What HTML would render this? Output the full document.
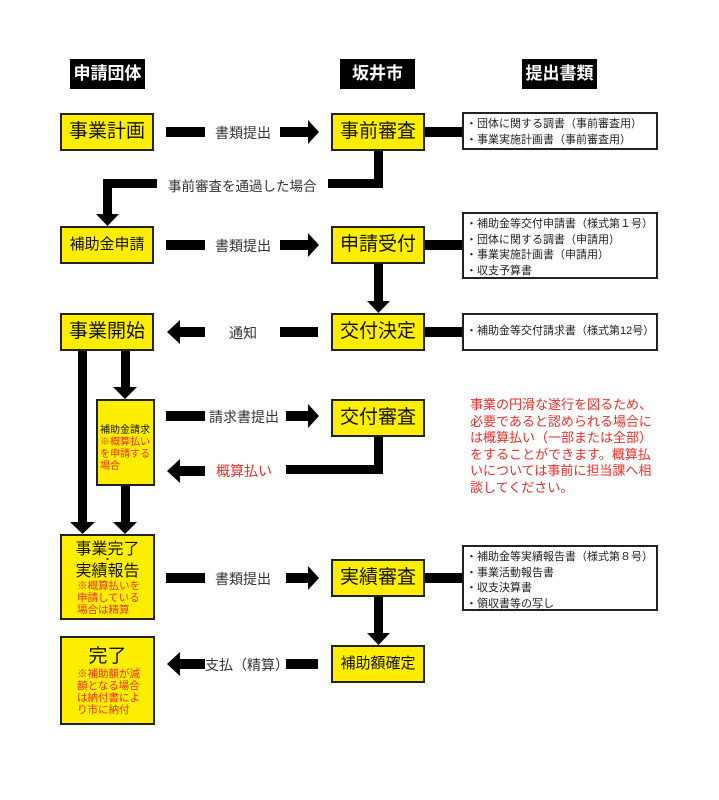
<!DOCTYPE html>
<html><head><meta charset="utf-8"><style>
body{margin:0;width:719px;height:800px;background:#fff;position:relative;font-family:"Liberation Sans","Noto Sans CJK JP",sans-serif;overflow:hidden}
.a{position:absolute}
.h{position:absolute;background:#000;color:#fff;font-size:17px;font-weight:bold;text-align:center;line-height:30px;height:30px;width:75px}
.y{position:absolute;background:#ffee00;border:2px solid #222;box-sizing:border-box;text-align:center;color:#111}
.d{position:absolute;border:2px solid #222;box-sizing:border-box;background:#fff;font-size:11px;line-height:15.5px;padding:3px 0 0 2px;color:#222;white-space:nowrap;overflow:hidden}
.t{position:absolute;font-size:14px;color:#333;white-space:nowrap}
.r{color:#e8302a}
</style></head><body>
<div class="h" style="left:70px;top:59px">申請団体</div>
<div class="h" style="left:340px;top:59px">坂井市</div>
<div class="h" style="left:522px;top:59px">提出書類</div>

<svg class="a" style="left:0;top:0" width="719" height="800">
<g fill="#000">
<rect x="166" y="127" width="39" height="10"/><rect x="280" y="127" width="29" height="10"/><polygon points="308,120 319,132 308,144"/>
<rect x="425" y="127" width="37" height="10"/>
<rect x="374" y="150" width="9" height="38"/><rect x="328" y="179" width="55" height="9"/>
<rect x="103" y="179" width="54" height="9"/><rect x="103" y="179" width="9" height="36"/><polygon points="96,214 119,214 107.5,226"/>
<rect x="166" y="240" width="39" height="10"/><rect x="280" y="240" width="29" height="10"/><polygon points="308,233 319,245 308,257"/>
<rect x="425" y="240" width="37" height="10"/>
<rect x="374" y="263" width="9" height="39"/><polygon points="367,301 390,301 378.5,313"/>
<rect x="180" y="327" width="25" height="10"/><polygon points="180,320 167,332 180,344"/><rect x="280" y="327" width="38" height="10"/>
<rect x="425" y="327" width="37" height="10"/>
<rect x="78" y="350" width="9" height="173"/><polygon points="70,522 95,522 82.5,534"/>
<rect x="121" y="350" width="9" height="38"/><polygon points="113,387 137,387 125,399"/>
<rect x="121" y="486" width="9" height="37"/><polygon points="113,522 137,522 125,534"/>
<rect x="166" y="411" width="39" height="10"/><rect x="286" y="411" width="23" height="10"/><polygon points="308,404 319,416 308,428"/>
<rect x="180" y="466" width="25" height="10"/><polygon points="180,459 167,471 180,483"/>
<rect x="286" y="465" width="97" height="9"/><rect x="374" y="437" width="9" height="37"/>
<rect x="166" y="573" width="39" height="10"/><rect x="286" y="573" width="23" height="10"/><polygon points="308,566 319,578 308,590"/>
<rect x="425" y="573" width="37" height="10"/>
<rect x="374" y="597" width="9" height="37"/><polygon points="367,633 390,633 378.5,645"/>
<rect x="180" y="659" width="25" height="10"/><polygon points="180,652 167,664 180,676"/><rect x="286" y="659" width="32" height="10"/>
</g></svg>

<div class="y" style="left:60px;top:113px;width:94px;height:38px;font-size:19px;line-height:34px">事業計画</div>
<div class="y" style="left:331px;top:113px;width:94px;height:38px;font-size:19px;line-height:34px">事前審査</div>
<div class="y" style="left:60px;top:226px;width:94px;height:38px;font-size:15px;line-height:34px">補助金申請</div>
<div class="y" style="left:331px;top:226px;width:94px;height:38px;font-size:19px;line-height:34px">申請受付</div>
<div class="y" style="left:60px;top:313px;width:94px;height:38px;font-size:19px;line-height:34px">事業開始</div>
<div class="y" style="left:331px;top:313px;width:94px;height:38px;font-size:19px;line-height:34px">交付決定</div>
<div class="y" style="left:96px;top:399px;width:59px;height:87px;font-size:10px;line-height:12px;text-align:left;padding:24px 0 0 2px">補助金請求<br><span class="r">※概算払い<br>を申請する<br>場合</span></div>
<div class="y" style="left:331px;top:399px;width:94px;height:38px;font-size:19px;line-height:34px">交付審査</div>
<div class="y" style="left:60px;top:534px;width:95px;height:86px;font-size:16px;line-height:16px;padding-top:6px">事業完了<br><span style="font-size:10px;line-height:6px;display:block">・</span>実績報告<div class="r" style="font-size:10.5px;line-height:12px;text-align:left;padding-left:15px">※概算払いを<br>申請している<br>場合は精算</div></div>
<div class="y" style="left:331px;top:559px;width:94px;height:38px;font-size:19px;line-height:34px">実績審査</div>
<div class="y" style="left:60px;top:636px;width:95px;height:89px;font-size:19px;line-height:22px;padding-top:8px">完了<div class="r" style="font-size:10.5px;line-height:12px;text-align:left;padding-left:15px">※補助額が減<br>額となる場合<br>は納付書によ<br>り市に納付</div></div>
<div class="y" style="left:331px;top:645px;width:94px;height:38px;font-size:15px;line-height:34px">補助額確定</div>

<div class="d" style="left:462px;top:112px;width:196px;height:38px">・団体に関する調書（事前審査用）<br>・事業実施計画書（事前審査用）</div>
<div class="d" style="left:462px;top:212px;width:196px;height:67px">・補助金等交付申請書（様式第１号）<br>・団体に関する調書（申請用）<br>・事業実施計画書（申請用）<br>・収支予算書</div>
<div class="d" style="left:462px;top:313px;width:196px;height:38px;padding-top:9px">・補助金等交付請求書（様式第12号）</div>
<div class="d" style="left:462px;top:545px;width:196px;height:66px">・補助金等実績報告書（様式第８号）<br>・事業活動報告書<br>・収支決算書<br>・領収書等の写し</div>

<div class="t" style="left:215px;top:123px">書類提出</div>
<div class="t" style="left:168px;top:175px;font-size:13.5px">事前審査を通過した場合</div>
<div class="t" style="left:215px;top:236px">書類提出</div>
<div class="t" style="left:229px;top:323px">通知</div>
<div class="t" style="left:209px;top:407px">請求書提出</div>
<div class="t r" style="left:216px;top:461px">概算払い</div>
<div class="t" style="left:215px;top:569px">書類提出</div>
<div class="t" style="left:205px;top:655px">支払（精算）</div>
<div class="a r" style="left:470px;top:397px;font-size:13px;line-height:16.6px;white-space:nowrap">事業の円滑な遂行を図るため、<br>必要であると認められる場合に<br>は概算払い（一部または全部）<br>をすることができます。概算払<br>いについては事前に担当課へ相<br>談してください。</div>
</body></html>
